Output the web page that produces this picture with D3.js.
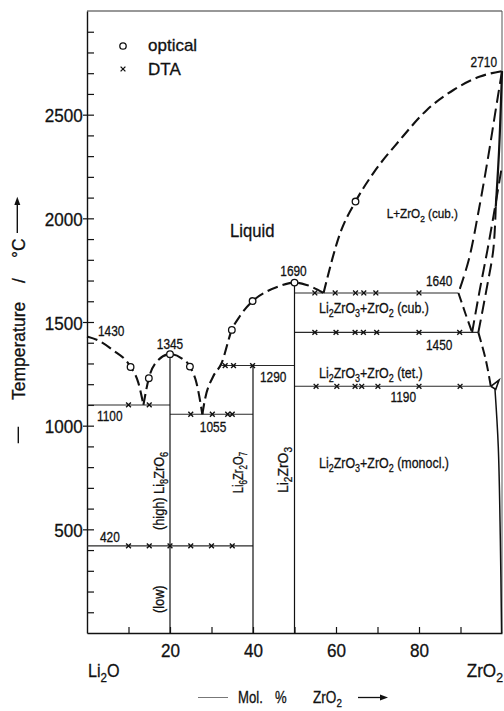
<!DOCTYPE html>
<html>
<head>
<meta charset="utf-8">
<script src="https://cdn.jsdelivr.net/npm/d3@7/dist/d3.min.js"></script>
<style>
  html, body { margin: 0; padding: 0; background: #fff; }
  svg { display: block; }
  text { font-family: "Liberation Sans", Arial, Helvetica, sans-serif; fill: #111; stroke: #111; stroke-width: 0.3px; }
</style>
</head>
<body>
<svg id="chart" width="504" height="711"></svg>
<script>
// ---- Li2O – ZrO2 phase diagram (composition in mol % ZrO2, temperature in °C) ----

const yMajorTicks = [500, 1000, 1500, 2000, 2500];
const yMinorTicks = [100, 200, 300, 400, 500, 600, 700, 800, 900, 1000, 1100, 1200, 1300, 1400,
                     1500, 1600, 1700, 1800, 1900, 2000, 2100, 2200, 2300, 2400, 2500, 2600, 2700, 2800, 2900];
const xTickLabels = [20, 40, 60, 80];
const xMinorTicks = [10, 20, 30, 40, 50, 60, 70, 80, 90];

// liquidus branches [mol % ZrO2, T]
const liqLi2O   = [[0, 1430], [3, 1408], [6, 1368], [10.5, 1283], [12.4, 1205], [13.6, 1100]];
const liqLi8    = [[13.6, 1100], [14.9, 1229], [16.8, 1309], [20, 1345], [22.8, 1325], [24.8, 1285], [26.4, 1205], [27.8, 1055]];
const liqMid    = [[27.8, 1055], [28.4, 1124], [30.4, 1237], [32.4, 1300], [34.9, 1462], [36.9, 1530], [39.9, 1601],
                   [43.3, 1647], [46.5, 1674], [50, 1690], [52.9, 1679], [57, 1640]];
const liqZrO2   = [[57, 1640], [61, 1928], [64.7, 2081], [69, 2218], [75.4, 2378], [81.9, 2523], [88.3, 2619], [94.7, 2684], [100, 2710]];

// ZrO2 solid-solution boundaries
const ssCubSolidus  = [[100, 2710], [98.3, 2500], [96.7, 2300], [94.5, 2050], [92, 1800], [89.5, 1640]];
const ssCubLower    = [[89.5, 1640], [91.2, 1540], [92.8, 1450]];
const ssCubTetA     = [[99.8, 2230], [98.2, 2040], [96.5, 1848], [94.6, 1650], [92.8, 1450]];
const ssEdgeSolid   = [[100, 2710], [99.3, 2330], [98.5, 2056]];
const ssCubTetB     = [[98.5, 2056], [97.9, 1848], [96.2, 1650], [94.3, 1450]];
const ssTetLower    = [[94.3, 1450], [96.1, 1317], [97.3, 1190]];
const ssLoop        = [[97.3, 1190], [99.3, 1220], [98.5, 1175], [97.3, 1190]];
const ssMonoSolvus  = [[98.3, 1178], [99.1, 900], [99.6, 450], [99.9, 0]];

// invariant (horizontal) lines
const invT    = [1100, 1055, 1290, 420, 1640, 1450, 1190];
const invFrom = [0, 20, 32.4, 0, 50, 50, 50];
const invTo   = [20, 40, 50, 40, 89.5, 94.3, 97.3];

// compounds (vertical lines): composition and upper end
const compX   = [20, 40, 50];
const compTop = [1345, 1290, 1690];

// measured points
const optical = [[10.5, 1283], [14.9, 1229], [20, 1345], [24.8, 1285], [34.9, 1462], [39.9, 1601], [50, 1690], [64.7, 2081]];
const dta = [
  [10, 1100], [15, 1100],
  [25, 1055], [30.2, 1055], [33.9, 1055], [35, 1055],
  [33.3, 1290], [35.3, 1290], [39.9, 1290],
  [10, 420], [15, 420], [20, 420], [25, 420], [30, 420], [35, 420],
  [54.9, 1640], [59.8, 1640], [64.7, 1640], [66.7, 1640], [69.6, 1640], [80, 1640],
  [54.9, 1450], [60, 1450], [64.6, 1450], [66.6, 1450], [69.8, 1450], [80, 1450], [89.8, 1450],
  [55.2, 1190], [60.2, 1190], [64.6, 1190], [66.2, 1190], [70.1, 1190], [80, 1190], [89.9, 1190]
];

// ---- scales ----
const svg = d3.select('#chart');
const x = d3.scaleLinear().domain([0, 100]).range([87, 502]);
const y = d3.scaleLinear().domain([0, 3000]).range([633, 11]);

// rich text: "_d" marks a subscript digit
function richText(t, str, fs) {
  const parts = str.split(/(_\d)/).filter(s => s.length);
  let shifted = false;
  parts.forEach(p => {
    if (p[0] === '_') {
      t.append('tspan').attr('font-size', fs * 0.72).attr('dy', shifted ? 0 : fs * 0.28).text(p.slice(1));
      shifted = true;
    } else {
      t.append('tspan').attr('dy', shifted ? -fs * 0.28 : 0).text(p);
      shifted = false;
    }
  });
}
function label(str, px, py, opt = {}) {
  const size = opt.size || 14.5, sx = opt.sx || 0.82, anchor = opt.anchor || 'start', rot = opt.rotate || 0;
  const t = svg.append('text')
    .attr('transform', `translate(${px},${py}) rotate(${rot}) scale(${sx},1)`)
    .attr('font-size', size)
    .attr('text-anchor', anchor);
  richText(t, str, size);
  return t;
}

// ---- frame ----
svg.append('line').attr('x1', x(0)).attr('x2', x(100)).attr('y1', y(3000)).attr('y2', y(3000))
  .attr('stroke', '#333').attr('stroke-width', 1.2);
svg.append('line').attr('x1', x(100)).attr('x2', x(100)).attr('y1', y(3000)).attr('y2', y(0))
  .attr('stroke', '#555').attr('stroke-width', 1);

// ---- axes ----
const gy = svg.append('g').attr('transform', `translate(${x(0)},0)`)
  .call(d3.axisLeft(y).tickValues(yMajorTicks).tickFormat(d3.format('d'))
    .tickSize(4).tickSizeOuter(0).tickPadding(0.3));
gy.selectAll('text').attr('font-size', 19).attr('dy', '0.37em')
  .attr('x', -4.3 / 0.9).attr('transform', 'scale(0.9,1)')
  .style('font-family', '"Liberation Sans", Arial, sans-serif').style('fill', '#111');
const gyMinor = svg.append('g').attr('transform', `translate(${x(0)},0)`)
  .call(d3.axisRight(y).tickValues(yMinorTicks).tickSize(7).tickFormat(''));
gyMinor.select('.domain').remove();

const gx = svg.append('g').attr('transform', `translate(0,${y(0)})`)
  .call(d3.axisBottom(x).tickValues(xTickLabels).tickFormat(d3.format('d'))
    .tickSize(0).tickSizeOuter(0).tickPadding(11));
gx.selectAll('text').attr('font-size', 19).attr('transform', 'scale(0.9,1)')
  .style('font-family', '"Liberation Sans", Arial, sans-serif').style('fill', '#111');
const gxMinor = svg.append('g').attr('transform', `translate(0,${y(0)})`)
  .call(d3.axisTop(x).tickValues(xMinorTicks).tickSize(6).tickFormat(''));
gxMinor.select('.domain').remove();

svg.selectAll('.domain').attr('stroke', '#111').attr('stroke-width', 1.4);
svg.selectAll('.tick line').attr('stroke', '#111').attr('stroke-width', 1.2);

// ---- invariant lines and compound lines ----
invT.forEach((T, i) => {
  svg.append('line').attr('x1', x(invFrom[i])).attr('x2', x(invTo[i])).attr('y1', y(T)).attr('y2', y(T))
    .attr('stroke', '#2a2a2a').attr('stroke-width', 1.1);
});
compX.forEach((c, i) => {
  svg.append('line').attr('x1', x(c)).attr('x2', x(c)).attr('y1', y(compTop[i])).attr('y2', y(0))
    .attr('stroke', '#111').attr('stroke-width', 1.2);
});

// ---- curves ----
const lineMono = d3.line().x(d => x(d[0])).y(d => y(d[1])).curve(d3.curveMonotoneX);
const lineCR = d3.line().x(d => x(d[0])).y(d => y(d[1])).curve(d3.curveCatmullRom.alpha(0.5));
const lineLin = d3.line().x(d => x(d[0])).y(d => y(d[1]));

[liqLi2O, liqLi8, liqMid, liqZrO2].forEach(seg => {
  svg.append('path').attr('d', lineMono(seg)).attr('fill', 'none')
    .attr('stroke', '#111').attr('stroke-width', 2.1).attr('stroke-dasharray', '11,5');
});
[ssCubSolidus, ssCubTetA, ssCubTetB].forEach(seg => {
  svg.append('path').attr('d', lineCR(seg)).attr('fill', 'none')
    .attr('stroke', '#111').attr('stroke-width', 2).attr('stroke-dasharray', '13,6');
});
[ssCubLower, ssTetLower].forEach(seg => {
  svg.append('path').attr('d', lineCR(seg)).attr('fill', 'none')
    .attr('stroke', '#111').attr('stroke-width', 2).attr('stroke-dasharray', '10,5');
});
svg.append('path').attr('d', lineCR(ssEdgeSolid)).attr('fill', 'none').attr('stroke', '#111').attr('stroke-width', 2.2);
svg.append('path').attr('d', lineLin(ssLoop)).attr('fill', 'none').attr('stroke', '#111').attr('stroke-width', 1.6);
svg.append('path').attr('d', lineCR(ssMonoSolvus)).attr('fill', 'none').attr('stroke', '#111').attr('stroke-width', 1.5);

// ---- markers ----
const xMark = 'M-2.4,-2.4L2.4,2.4M-2.4,2.4L2.4,-2.4';
svg.append('g').selectAll('path').data(dta).join('path')
  .attr('transform', d => `translate(${x(d[0])},${y(d[1])})`)
  .attr('d', xMark).attr('stroke', '#111').attr('stroke-width', 1.4).attr('fill', 'none');
svg.append('g').selectAll('circle').data(optical).join('circle')
  .attr('cx', d => x(d[0])).attr('cy', d => y(d[1])).attr('r', 3.3)
  .attr('fill', '#fff').attr('stroke', '#111').attr('stroke-width', 1.3);

// ---- legend ----
svg.append('circle').attr('cx', 123).attr('cy', 46).attr('r', 3.2)
  .attr('fill', '#fff').attr('stroke', '#111').attr('stroke-width', 1.3);
svg.append('text').attr('x', 148).attr('y', 50.5).attr('font-size', 17).text('optical');
svg.append('path').attr('transform', 'translate(123,69)').attr('d', xMark)
  .attr('stroke', '#111').attr('stroke-width', 1.3);
svg.append('text').attr('x', 148).attr('y', 75).attr('font-size', 17).text('DTA');

// ---- temperature values at special points ----
label(String(liqLi2O[0][1]), x(0) + 11, y(liqLi2O[0][1]) - 0.5);
label(String(compTop[0]), x(compX[0]), y(compTop[0]) - 5, { anchor: 'middle' });
label(String(invT[0]), x(0) + 10, y(invT[0]) + 16.5);
label(String(invT[1]), x(27.8) - 2.5, y(invT[1]) + 17.7);
label(String(invT[2]), x(40) + 7, y(invT[2]) + 16);
label(String(compTop[2]), x(compX[2]) - 1, y(compTop[2]) - 7, { anchor: 'middle' });
label(String(invT[4]), x(89.5) - 6, y(invT[4]) - 6.5, { anchor: 'end' });
label(String(invT[5]), x(89.5) - 6, y(invT[5]) + 18, { anchor: 'end' });
label(String(invT[6]), x(80) - 3, y(invT[6]) + 16, { anchor: 'end' });
label(String(liqZrO2[liqZrO2.length - 1][1]), x(100) - 5, y(2710) - 4, { anchor: 'end' });
label(String(invT[3]), x(0) + 13, y(invT[3]) - 3.5);

// ---- phase field labels ----
label('Liquid', 230, 237, { size: 18.5, sx: 0.9 });
label('L+ZrO_2 (cub.)', 386.7, 218, { size: 13, sx: 0.9 });
label('Li_2ZrO_3+ZrO_2 (cub.)', 319, 313, { size: 15, sx: 0.83 });
label('Li_2ZrO_3+ZrO_2 (tet.)', 319, 377.5, { size: 15, sx: 0.83 });
label('Li_2ZrO_3+ZrO_2 (monocl.)', 319, 468, { size: 15, sx: 0.83 });
label('(high) Li_8ZrO_6', 163.7, 530, { size: 15, sx: 0.85, rotate: -90 });
label('(low)', 163.7, 613, { size: 15, sx: 0.85, rotate: -90 });
label('Li_6Zr_2O_7', 243.3, 493.3, { size: 14, sx: 0.8, rotate: -90 });
label('Li_2ZrO_3', 287.5, 493, { size: 15, sx: 0.93, rotate: -90 });

// ---- axis end-members and titles ----
label('Li_2O', 88, 677, { size: 19, sx: 0.85 });
label('ZrO_2', 503, 677, { size: 19, sx: 0.9, anchor: 'end' });

// x title
svg.append('line').attr('x1', 198).attr('x2', 228).attr('y1', 697.5).attr('y2', 697.5)
  .attr('stroke', '#777').attr('stroke-width', 1);
label('Mol.', 238, 703, { size: 16, sx: 0.82 });
label('%', 275, 703, { size: 16, sx: 0.82 });
label('ZrO_2', 313, 703, { size: 16, sx: 0.85 });
svg.append('line').attr('x1', 358).attr('x2', 382).attr('y1', 697.5).attr('y2', 697.5)
  .attr('stroke', '#111').attr('stroke-width', 1.3);
svg.append('path').attr('d', 'M388,697.5L380,694.5L380,700.5Z').attr('fill', '#111');

// y title (rotated, reads bottom to top)
svg.append('line').attr('x1', 18.3).attr('x2', 18.3).attr('y1', 443.3).attr('y2', 426.7)
  .attr('stroke', '#111').attr('stroke-width', 1.4);
label('Temperature', 24.5, 400, { size: 17.5, sx: 1, rotate: -90 });
label('/', 24.5, 283, { size: 17.5, sx: 1, rotate: -90 });
label('°C', 24.5, 258, { size: 17.5, sx: 1, rotate: -90 });
svg.append('line').attr('x1', 17.3).attr('x2', 17.3).attr('y1', 233).attr('y2', 203)
  .attr('stroke', '#111').attr('stroke-width', 1.4);
svg.append('path').attr('d', 'M17.3,196.7L14.3,205L20.3,205Z').attr('fill', '#111');
</script>
</body>
</html>
